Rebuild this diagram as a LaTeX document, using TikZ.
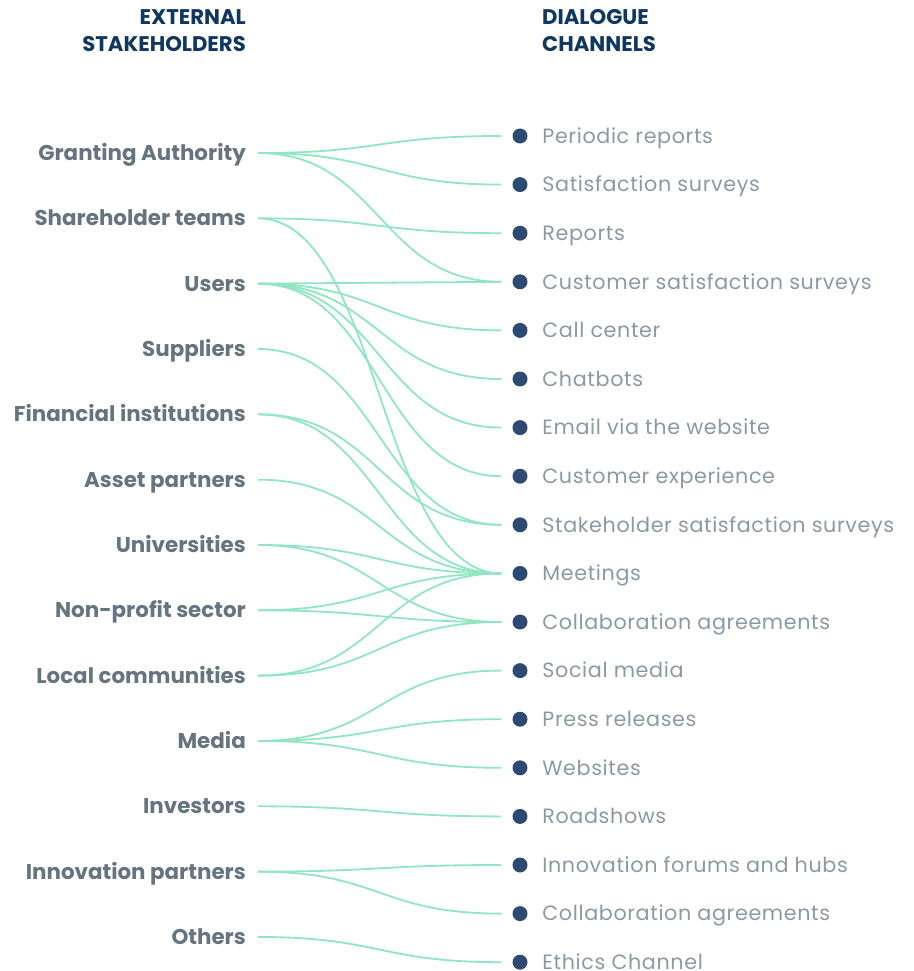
\documentclass[tikz,border=0pt]{standalone}
\usepackage{fontspec}
\setmainfont{Poppins}
\newfontfamily\chanfont[LetterSpace=3]{Poppins}
\usetikzlibrary{positioning}
\definecolor{Navy}{HTML}{10375F}
\definecolor{Slate}{HTML}{65757F}
\definecolor{Mist}{HTML}{8B99A5}
\definecolor{DotBlue}{HTML}{2D4A75}
\definecolor{Mint}{HTML}{8FE6C0}
\tikzset{
  head/.style={font=\bfseries\fontsize{21.2}{26.5}\selectfont,text=Navy,inner sep=0pt},
  stake/.style={font=\bfseries\fontsize{21.4}{24}\selectfont,text=Slate,anchor=east,
    inner xsep=12pt,inner ysep=0pt,text height=15pt,text depth=0pt},
  dot/.style={circle,fill=DotBlue,minimum size=15pt,inner sep=0pt},
  chan/.style={font=\chanfont\fontsize{20.7}{24}\selectfont,text=Mist,inner sep=0pt,
    text height=14.5pt,text depth=0pt},
  link/.style={Mint,line width=1.8pt}
}
% stakeholder #1 -> channel #2
\newcommand{\link}[2]{%
  \draw[link] (s#1.east) .. controls +(122,0) and +(-122,0) .. ([xshift=-11pt]d#2.west);
}

\begin{document}
\begin{tikzpicture}[x=1pt,y=-1pt]
  \useasboundingbox (0,0) rectangle (913,971);
  \node[head,anchor=base east,align=right] (hs) at (246,51.5) {EXTERNAL\\STAKEHOLDERS};
  \node[head,anchor=base west,align=left] (hc) at (542,51.5) {DIALOGUE\\CHANNELS};
  % left column
  \foreach \txt [count=\i] in {Granting Authority,Shareholder teams,Users,Suppliers,
      Financial institutions,Asset partners,Universities,Non-profit sector,
      Local communities,Media,Investors,Innovation partners,Others}
    \node[stake] (s\i) at (258,{153+65.33*(\i-1)}) {\txt};
  % right column
  \foreach \txt [count=\i] in {Periodic reports,Satisfaction surveys,Reports,
      Customer satisfaction surveys,Call center,Chatbots,Email via the website,
      Customer experience,Stakeholder satisfaction surveys,Meetings,
      Collaboration agreements,Social media,Press releases,Websites,Roadshows,
      Innovation forums and hubs,Collaboration agreements,Ethics Channel}{
    \node[dot] (d\i) at (520,{136+48.6*(\i-1)}) {};
    \node[chan,right=14.5pt of d\i] (c\i) {\txt};
  }
  % links
  \link{1}{1}\link{1}{2}\link{1}{4}
  \link{2}{3}\link{2}{10}
  \link{3}{4}\link{3}{5}\link{3}{6}\link{3}{7}\link{3}{8}
  \link{4}{9}
  \link{5}{9}\link{5}{10}
  \link{6}{10}
  \link{7}{10}\link{7}{11}
  \link{8}{10}\link{8}{11}
  \link{9}{10}\link{9}{11}
  \link{10}{12}\link{10}{13}\link{10}{14}
  \link{11}{15}
  \link{12}{16}\link{12}{17}
  \link{13}{18}
\end{tikzpicture}
\end{document}
